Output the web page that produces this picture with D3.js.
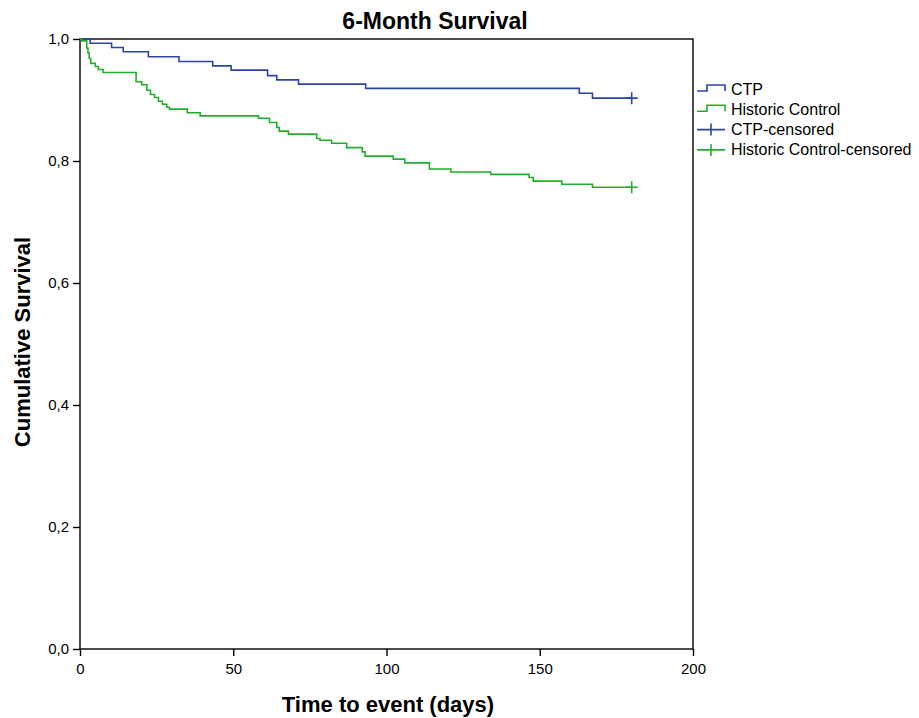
<!DOCTYPE html>
<html lang="en">
<head>
<meta charset="utf-8">
<script src="https://cdn.jsdelivr.net/npm/d3@7"></script>
<style>
  body { margin: 0; background: #fff; }
  svg text { font-family: "Liberation Sans", Arial, sans-serif; fill: #000; }
  .axis path, .axis line { stroke: #000; stroke-width: 1.4px; }
  .axis text { font-size: 15px; }
</style>
</head>
<body>
<svg width="919" height="718"></svg>
<script>
// Kaplan-Meier steps: [day, survival after the step]
var ctpSteps = [[0,1.0],[3.3,0.993],[10.3,0.986],[14.1,0.979],[22.3,0.971],[32.3,0.963],
  [43.3,0.956],[49.3,0.949],[61.2,0.940],[64.2,0.933],[71.3,0.926],[93.2,0.919],
  [162.9,0.911],[167.2,0.903]];
var ctpCensored = [[180,0.903]];

var histSteps = [[0,1.0],[0.5,0.997],[2.2,0.985],[2.6,0.977],[3.0,0.968],[3.5,0.960],
  [5.0,0.955],[6.0,0.950],[7.5,0.945],[18.3,0.930],[20.1,0.925],[21.8,0.916],[23.0,0.909],
  [24.3,0.904],[25.6,0.898],[26.9,0.893],[28.3,0.888],[29.2,0.885],[35.0,0.879],[39.2,0.874],
  [58.2,0.870],[61.8,0.863],[64.2,0.855],[65.0,0.849],[68.0,0.844],[77.2,0.837],[78.3,0.834],
  [82.1,0.829],[87.0,0.822],[92.1,0.815],[93.0,0.808],[102.2,0.803],[106.0,0.797],
  [114.0,0.787],[121.0,0.782],[134.0,0.778],[146.5,0.773],[147.9,0.767],[157.2,0.762],
  [167.2,0.757]];
var histCensored = [[180,0.757]];

var xTicks = [0, 50, 100, 150, 200];
var yTicks = [0, 0.2, 0.4, 0.6, 0.8, 1.0];
var legendLabels = ["CTP", "Historic Control", "CTP-censored", "Historic Control-censored"];

var blue = "#2c44a6", green = "#22ad2a";

var svg = d3.select("svg");
var m = {left: 80, top: 39, right: 693, bottom: 649};

var x = d3.scaleLinear().domain([0, 200]).range([m.left, m.right]);
var y = d3.scaleLinear().domain([0, 1]).range([m.bottom, m.top]);

// frame
svg.append("rect")
  .attr("x", m.left).attr("y", m.top)
  .attr("width", m.right - m.left).attr("height", m.bottom - m.top)
  .attr("fill", "none").attr("stroke", "#000").attr("stroke-width", 1.4);

svg.append("g").attr("class", "axis")
  .attr("transform", "translate(" + m.left + ",0)")
  .call(d3.axisLeft(y).tickValues(yTicks).tickSize(7).tickSizeOuter(0)
    .tickFormat(function (d) { return d3.format(".1f")(d).replace(".", ","); }))
  .call(function (g) { g.select(".domain").remove(); g.selectAll("text").attr("dx", "-1"); });

svg.append("g").attr("class", "axis")
  .attr("transform", "translate(0," + m.bottom + ")")
  .call(d3.axisBottom(x).tickValues(xTicks).tickSize(7).tickSizeOuter(0)
    .tickFormat(d3.format("d")))
  .call(function (g) { g.select(".domain").remove(); g.selectAll("text").attr("dy", "1.0em"); });

// curves
var line = d3.line().curve(d3.curveStepAfter)
  .x(function (d) { return x(d[0]); })
  .y(function (d) { return y(d[1]); });

function drawCurve(steps, cens, color) {
  var pts = steps.concat(cens);
  svg.append("path").datum(pts)
    .attr("d", line).attr("fill", "none")
    .attr("stroke", color).attr("stroke-width", 1.6);
  svg.append("g").selectAll("path").data(cens).enter().append("path")
    .attr("d", function (d) {
      var cx = x(d[0]), cy = y(d[1]);
      return "M" + (cx - 6) + "," + cy + "H" + (cx + 6) + "M" + cx + "," + (cy - 6) + "V" + (cy + 6);
    })
    .attr("stroke", color).attr("stroke-width", 1.6).attr("fill", "none");
}
drawCurve(ctpSteps, ctpCensored, blue);
drawCurve(histSteps, histCensored, green);

// legend
var colors = [blue, green, blue, green];
var leg = svg.append("g").selectAll("g").data(legendLabels).enter().append("g")
  .attr("transform", function (d, i) { return "translate(697," + (89 + i * 20.3) + ")"; });
leg.append("path")
  .attr("d", function (d, i) { return i < 2 ? "M0,2H10V-4H28V2" : "M0,0H28M14,-6V6"; })
  .attr("fill", "none").attr("stroke", function (d, i) { return colors[i]; })
  .attr("stroke-width", 1.6);
leg.append("text").attr("x", 34).attr("y", 5.5).style("font-size", "16px")
  .text(function (d) { return d; });

// titles
svg.append("text").attr("x", 435).attr("y", 29).attr("text-anchor", "middle")
  .style("font-size", "23px").style("font-weight", "bold").text("6-Month Survival");
svg.append("text").attr("x", 388).attr("y", 712).attr("text-anchor", "middle")
  .style("font-size", "22px").style("font-weight", "bold").text("Time to event (days)");
svg.append("text").attr("transform", "translate(30,342) rotate(-90)").attr("text-anchor", "middle")
  .style("font-size", "22px").style("font-weight", "bold").text("Cumulative Survival");
</script>
</body>
</html>
